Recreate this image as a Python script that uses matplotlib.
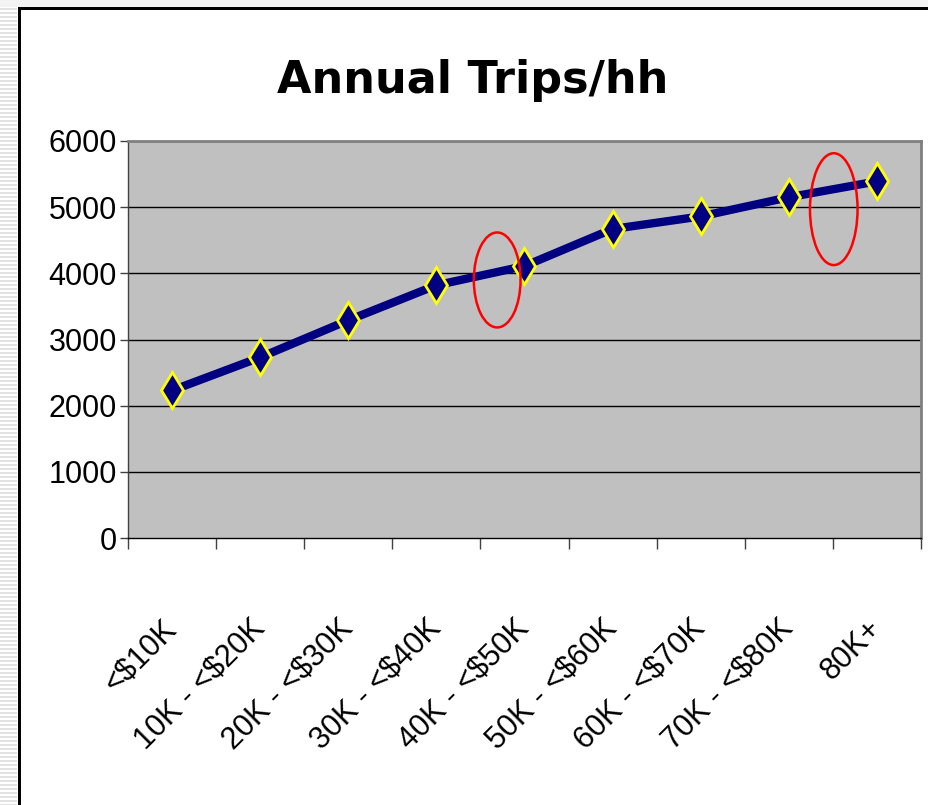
import matplotlib
matplotlib.use("Agg")
import matplotlib.pyplot as plt
from matplotlib.patches import Ellipse, Rectangle
from matplotlib import font_manager

categories = ["<$10K", "10K - <$20K", "20K - <$30K", "30K - <$40K", "40K - <$50K",
              "50K - <$60K", "60K - <$70K", "70K - <$80K", "80K+"]
trips = [2230, 2730, 3290, 3820, 4110, 4670, 4860, 5150, 5390]
yticks = [0, 1000, 2000, 3000, 4000, 5000, 6000]
title = "Annual Trips/hh"

names = {f.name for f in font_manager.fontManager.ttflist}
if "Liberation Sans Narrow" in names:
    tick_family, tick_size = "Liberation Sans Narrow", 25
else:
    tick_family, tick_size = "Liberation Sans", 22

W, H = 929, 805
fig = plt.figure(figsize=(W / 100, H / 100), dpi=100)
fig.patch.set_facecolor("white")

def px(x0, y0, w, h, **kw):
    r = Rectangle((x0 / W, 1 - (y0 + h) / H), w / W, h / H, transform=fig.transFigure, **kw)
    fig.add_artist(r)

# left striped strip and top strip
px(0, 0, 18, H, facecolor="white", edgecolor="none")
for y in range(0, H, 4):
    px(0, y, 17, 2, facecolor="#e2e2e2", edgecolor="none")
px(0, 0, W, 7, facecolor="#f3f3f3", edgecolor="none")
# black frame
px(18, 7, 3, H, facecolor="black", edgecolor="none")
px(18, 7, W, 3, facecolor="black", edgecolor="none")

ax = fig.add_axes([128 / W, (H - 538) / H, 793 / W, 397 / H])
ax.set_facecolor("#c0c0c0")
n = len(categories)
x = list(range(n))
ax.set_xlim(-0.5, n - 0.5)
ax.set_ylim(0, 6000)

for v in yticks[1:-1]:
    ax.axhline(v, color="black", lw=1, zorder=1)

ax.plot(x, trips, color="#000080", lw=6, zorder=3, solid_capstyle="butt")
ax.plot(x, trips, linestyle="none", marker="d", ms=18, mfc="#000080",
        mec="#ffff00", mew=2, zorder=4)

for (cx, cy, w, h) in [(3.69, 3900, 0.53, 1435), (7.51, 4970, 0.54, 1690)]:
    ax.add_patch(Ellipse((cx, cy), w, h, fill=False, edgecolor="#ff0000", lw=1.8,
                         zorder=5, clip_on=False))

for s in ["top", "right"]:
    ax.spines[s].set_color("#808080")
    ax.spines[s].set_linewidth(2)
ax.spines["left"].set_color("#404040")
ax.spines["left"].set_linewidth(1)
ax.spines["bottom"].set_color("black")
ax.spines["bottom"].set_linewidth(1)

ax.set_yticks(yticks)
ax.set_yticklabels([str(v) for v in yticks], fontfamily=tick_family, fontsize=tick_size)
ax.tick_params(axis="y", direction="out", length=6, width=1, color="#404040", pad=2)

ax.set_xticks([i - 0.5 for i in range(n + 1)], minor=True)
ax.set_xticks(x)
ax.set_xticklabels(categories, rotation=45, ha="right", va="center",
                   rotation_mode="anchor", fontfamily=tick_family, fontsize=tick_size)
ax.tick_params(axis="x", which="major", length=0, pad=62)
ax.tick_params(axis="x", which="minor", length=8, width=1, color="#404040")

fig.text(473 / W, 1 - 80 / H, title, ha="center", va="center",
         fontfamily="DejaVu Sans", fontweight="bold", fontsize=32)

fig.savefig("out.png", dpi=100)
